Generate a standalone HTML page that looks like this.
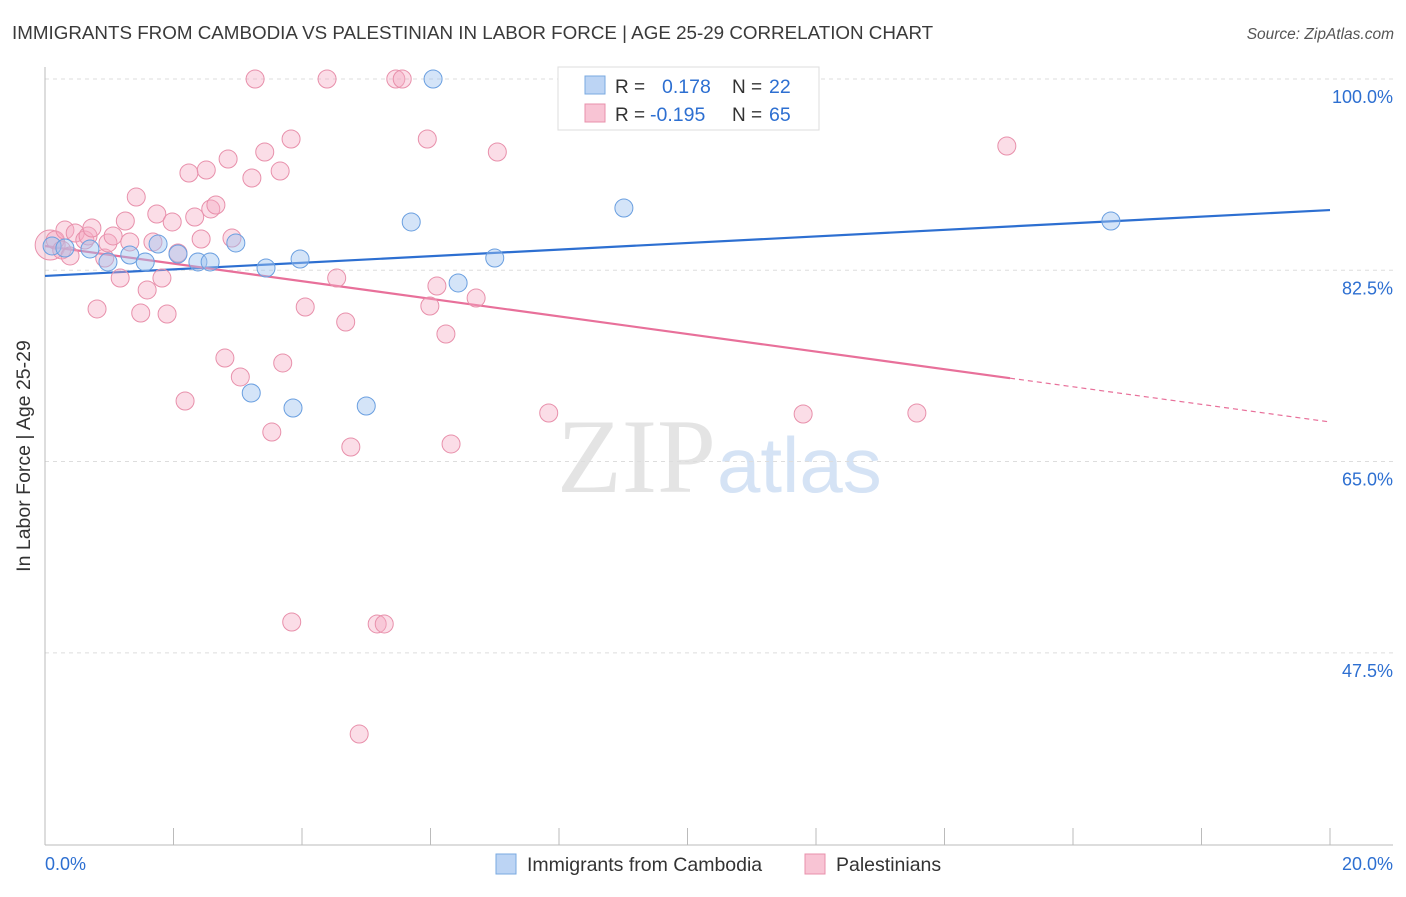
<!DOCTYPE html>
<html><head><meta charset="utf-8"><style>
body{margin:0;background:#fff;font-family:"Liberation Sans",sans-serif}
</style></head><body>
<svg id="c" width="1406" height="892" xmlns="http://www.w3.org/2000/svg" font-family="Liberation Sans, sans-serif">
<text x="12" y="39" font-size="18.8" fill="#3a3a3a">IMMIGRANTS FROM CAMBODIA VS PALESTINIAN IN LABOR FORCE | AGE 25-29 CORRELATION CHART</text>
<text x="1394" y="39" font-size="15.5" fill="#555" text-anchor="end" font-style="italic">Source: ZipAtlas.com</text>
<text x="30" y="456" font-size="19.5" fill="#333" text-anchor="middle" transform="rotate(-90 30 456)">In Labor Force | Age 25-29</text>
<text x="716" y="492" font-size="106" fill="#e4e4e4" text-anchor="end" font-family="Liberation Serif, serif">ZIP</text>
<text x="717" y="492" font-size="78" fill="#d5e3f5">atlas</text>
<g id="grid"></g><g id="axes"></g><g id="trend"></g><g id="pts"></g>
<g>
<rect x="558" y="67" width="261" height="63" fill="#fff" stroke="#ddd"/>
<rect x="585" y="76" width="20" height="18" fill="#bcd4f4" stroke="#7aaae0"/>
<rect x="585" y="104" width="20" height="18" fill="#f8c4d4" stroke="#e890ab"/>
<text x="615" y="93" font-size="19" fill="#333">R = </text><text x="662" y="93" font-size="19.5" fill="#2d6fd1">0.178</text>
<text x="732" y="93" font-size="19" fill="#333">N = </text><text x="769" y="93" font-size="19.5" fill="#2d6fd1">22</text>
<text x="615" y="121" font-size="19" fill="#333">R = </text><text x="650" y="121" font-size="19.5" fill="#2d6fd1">-0.195</text>
<text x="732" y="121" font-size="19" fill="#333">N = </text><text x="769" y="121" font-size="19.5" fill="#2d6fd1">65</text>
</g>
<g>
<rect x="496" y="854" width="20" height="20" fill="#bcd4f4" stroke="#7aaae0"/>
<text x="527" y="871" font-size="19.5" fill="#333">Immigrants from Cambodia</text>
<rect x="805" y="854" width="20" height="20" fill="#f8c4d4" stroke="#e890ab"/>
<text x="836" y="871" font-size="19.5" fill="#333">Palestinians</text>
</g>
</svg>
<script>
const yTicks=[100,82.5,65,47.5];
const yTickLabels=["100.0%","82.5%","65.0%","47.5%"];
const xTickLabels=["0.0%","20.0%"];
const blueX=[0.11,0.31,0.70,0.98,1.32,1.56,1.76,2.07,2.38,2.57,2.97,3.21,3.44,3.86,3.97,5.00,5.70,6.04,6.43,7.00,9.01,16.59];
const blueY=[84.72,84.54,84.45,83.26,83.90,83.26,84.90,83.99,83.26,83.26,85.00,71.27,82.71,69.90,83.53,70.08,86.92,100,81.34,83.62,88.20,87.01];
const pinkX=[0.08,0.16,0.26,0.31,0.39,0.47,0.62,0.67,0.73,0.81,0.93,0.98,1.06,1.17,1.25,1.32,1.42,1.49,1.59,1.68,1.74,1.82,1.90,1.98,2.07,2.18,2.24,2.33,2.43,2.51,2.58,2.66,2.80,2.85,2.91,3.04,3.22,3.27,3.42,3.53,3.66,3.70,3.83,3.84,4.05,4.39,4.54,4.68,4.76,4.89,5.17,5.28,5.46,5.56,5.95,5.99,6.10,6.24,6.32,6.71,7.04,7.84,11.80,13.57,14.97];
const pinkY=[84.81,85.27,84.36,86.18,83.81,85.91,85.27,85.64,86.37,78.96,83.62,85.00,85.64,81.79,87.01,85.09,89.20,78.59,80.70,85.09,87.65,81.79,78.50,86.92,84.08,70.54,91.40,87.37,85.36,91.67,88.11,88.47,74.47,92.68,85.45,72.74,90.94,100,93.32,67.70,91.58,74.02,94.51,50.32,79.14,100,81.79,77.77,66.33,40.07,50.14,50.14,100,100,94.51,79.23,81.06,76.67,66.61,79.96,93.32,69.44,69.35,69.44,93.87];
const blueTrend=[81.98,88.01];
const pinkTrend=[84.72,68.62];
const pinkSolidEnd=15.02;

const NS="http://www.w3.org/2000/svg";
const X=v=>45+v*64.25, Y=v=>79+(100-v)*10.93;
function mk(p,t,a){const e=document.createElementNS(NS,t);for(const k in a)e.setAttribute(k,a[k]);document.getElementById(p).appendChild(e);return e;}
yTicks.forEach((t,i)=>{
 const l=mk('grid','line',{x1:45,x2:1393,y1:Y(t),y2:Y(t),stroke:'#ddd','stroke-dasharray':'4,4'});
 
 
 const tx=mk('grid','text',{x:1393,y:Y(t)+24,'font-size':18,fill:'#2d6fd1','text-anchor':'end'});
 tx.textContent=yTickLabels[i];
 
 
});
let a=mk('axes','line',{x1:45,x2:45,y1:67,y2:845,stroke:'#bbb'});


a=mk('axes','line',{x1:45,x2:1393,y1:845,y2:845,stroke:'#bbb'});


for(let i=0;i<=10;i++){const t=mk('axes','line',{x1:X(i*2),x2:X(i*2),y1:828,y2:845,stroke:'#bbb'});
 
 }
[[0,'start',45],[20,'end',1393]].forEach((d,i)=>{const t=mk('axes','text',{x:d[2],y:870,'font-size':18,fill:'#2d6fd1','text-anchor':d[1]});t.textContent=xTickLabels[i];
 
 });
function ty(tr,x){return tr[0]+(tr[1]-tr[0])*x/20;}
let L=mk('trend','line',{x1:X(0),y1:Y(ty(blueTrend,0)),x2:X(20),y2:Y(ty(blueTrend,20)),stroke:'#2d6fd1','stroke-width':2.2});


L=mk('trend','line',{x1:X(0),y1:Y(ty(pinkTrend,0)),x2:X(pinkSolidEnd),y2:Y(ty(pinkTrend,pinkSolidEnd)),stroke:'#e8709a','stroke-width':2.2});


L=mk('trend','line',{x1:X(pinkSolidEnd),y1:Y(ty(pinkTrend,pinkSolidEnd)),x2:X(20),y2:Y(ty(pinkTrend,20)),stroke:'#e8709a','stroke-width':1.2,'stroke-dasharray':'5,4'});


pinkX.forEach((x,i)=>{const c=mk('pts','circle',{cx:X(x),cy:Y(pinkY[i]),r:i==0?15:9,fill:'rgba(245,170,195,0.4)',stroke:'#e890ab','stroke-width':1});
 
 });
blueX.forEach((x,i)=>{const c=mk('pts','circle',{cx:X(x),cy:Y(blueY[i]),r:9,fill:'rgba(160,195,240,0.45)',stroke:'#6a9fe0','stroke-width':1});
 
 });
</script>
</body></html>
